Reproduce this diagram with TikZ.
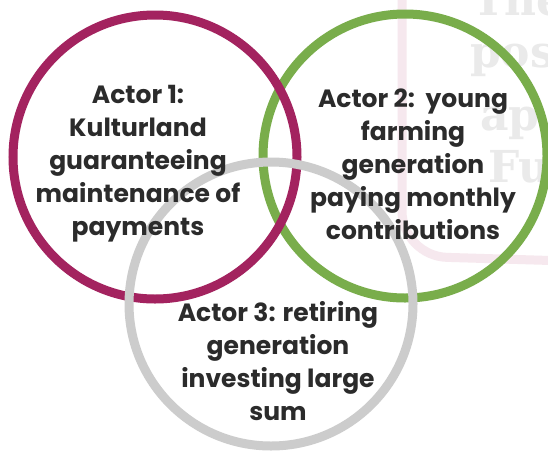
\documentclass[tikz,border=0pt]{standalone}
\usepackage{fontspec}
\setmainfont{Poppins}
\newfontfamily\bgfont{DejaVu Serif}
\definecolor{magentac}{HTML}{A3235F}
\definecolor{greenc}{HTML}{79AD4B}
\definecolor{grayc}{HTML}{CCCCCC}
\definecolor{textc}{HTML}{2B2B2B}
\definecolor{bgpink}{HTML}{F6E8EE}
\definecolor{bggray}{HTML}{EAEAEA}
\tikzset{
  ring/.style={circle, draw, line width=9pt, minimum size=284pt, inner sep=0pt},
  label/.style={align=center, text=textc, font=\bfseries\fontsize{25}{33}\selectfont, inner sep=0pt},
  bgtext/.style={text=bggray, font=\bgfont\bfseries\fontsize{44}{44}\selectfont, anchor=base west, inner sep=0pt}
}
\begin{document}
\begin{tikzpicture}[x=1pt,y=-1pt]
\useasboundingbox (0,0) rectangle (548,450);
\fill[white] (0,0) rectangle (548,450);
\begin{scope}
\clip (0,0) rectangle (548,450);
\draw[bgpink, line width=9pt, rounded corners=45pt] (402,-20) -- (402,256) -- (600,262);
\node[bgtext] (b1) at (472,15) {The};
\node[bgtext] (b2) at (470,67) {pos};
\node[bgtext] (b3) at (480,130) {ap};
\node[bgtext] (b4) at (488,182) {Fu};
\end{scope}
\node[ring, draw=greenc] (c2) at (405,156) {};
\node[ring, draw=magentac] (c1) at (155,157) {};
\node[ring, draw=grayc] (c3) at (271,304) {};
\node[label] (t1) at (138,164) {Actor 1:\\Kulturland\\guaranteeing\\maintenance of\\payments};
\node[label] (t2) at (413,164) {Actor 2:\ \ young\\farming\\generation\\paying monthly\\contributions};
\node[label] (t3) at (278,361) {Actor 3: retiring\\generation\\investing large\\sum};
\end{tikzpicture}
\end{document}
